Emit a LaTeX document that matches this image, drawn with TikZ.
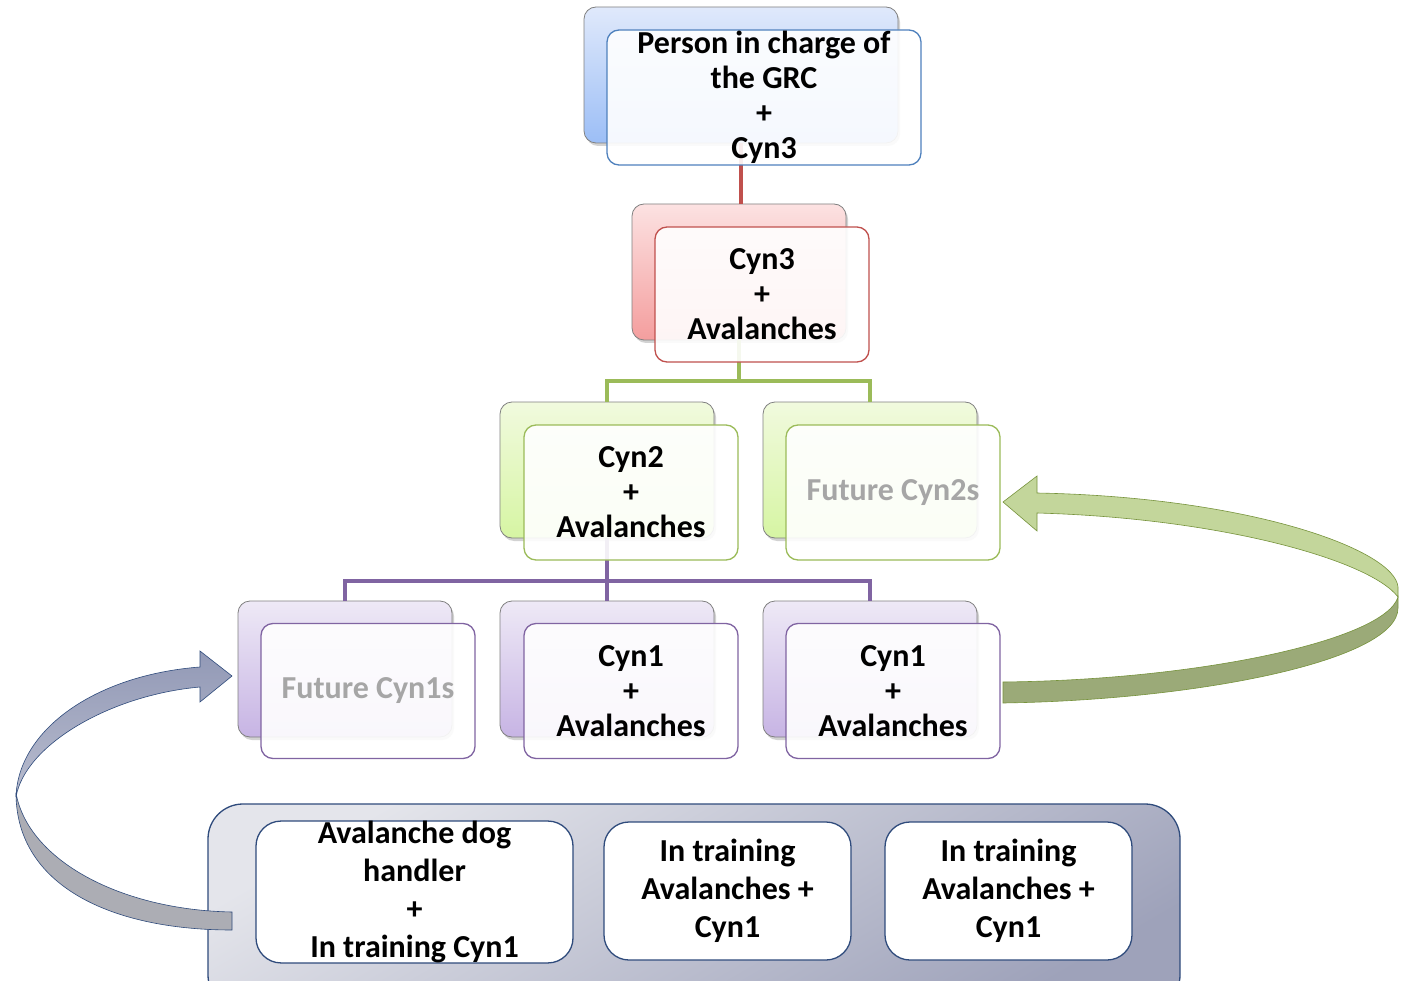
\documentclass[tikz,border=0pt]{standalone}
\usepackage{fontspec}
\setmainfont{Carlito}
\usetikzlibrary{shadows,calc}
\definecolor{bluetop}{RGB}{224,233,251}
\definecolor{bluebot}{RGB}{156,190,246}
\definecolor{blueline}{RGB}{79,129,189}
\definecolor{redtop}{RGB}{252,226,226}
\definecolor{redbot}{RGB}{244,158,158}
\definecolor{redline}{RGB}{192,80,77}
\definecolor{greentop}{RGB}{241,250,222}
\definecolor{greenbot}{RGB}{214,245,163}
\definecolor{greenline}{RGB}{155,187,89}
\definecolor{purpletop}{RGB}{238,233,246}
\definecolor{purplebot}{RGB}{199,180,228}
\definecolor{purpleline}{RGB}{128,100,162}
\definecolor{navy}{RGB}{47,75,124}
\definecolor{contop}{RGB}{228,229,235}
\definecolor{conbot}{RGB}{158,162,186}
\definecolor{futuregray}{RGB}{166,166,166}
\definecolor{arrlight}{RGB}{195,214,155}
\definecolor{arrdark}{RGB}{155,170,120}
\definecolor{arrgreenline}{RGB}{119,147,60}
\definecolor{arrbluetop}{RGB}{146,153,182}
\definecolor{arrbluebot}{RGB}{184,188,206}
\definecolor{arrgray}{RGB}{172,173,180}
\begin{document}
\begin{tikzpicture}[x=1pt,y=-1pt,
  txt/.style={font=\bfseries\fontsize{32}{35}\selectfont, align=center},
  backbox/.style={draw=black!50, line width=0.8pt, rounded corners=12pt,
    minimum width=214pt, minimum height=136pt, inner sep=0pt,
    drop shadow={opacity=0.35, shadow xshift=2pt, shadow yshift=-3pt}},
  frontbox/.style={line width=1.3pt, rounded corners=12pt, fill=white,
    fill opacity=0.9, text opacity=1, minimum width=214pt, minimum height=135pt,
    inner sep=0pt, txt},
  conn/.style={line width=4pt},
  inbox/.style={draw=navy, line width=1.3pt, fill=white, rounded corners=25pt,
    inner sep=0pt, minimum height=138pt, align=center,
    font=\bfseries\fontsize{32}{38}\selectfont},
]
\clip (0,0) rectangle (1402,981);
\fill[white] (0,0) rectangle (1402,981);

% back boxes
\node[backbox, minimum width=314pt, top color=bluetop, bottom color=bluebot] (topback) at (741,75) {};
\node[backbox, top color=redtop, bottom color=redbot] (redback) at (739,272) {};
\node[backbox, top color=greentop, bottom color=greenbot] (g1back) at (607,470) {};
\node[backbox, top color=greentop, bottom color=greenbot] (g2back) at (870,470) {};
\node[backbox, top color=purpletop, bottom color=purplebot] (p1back) at (345,669) {};
\node[backbox, top color=purpletop, bottom color=purplebot] (p2back) at (607,669) {};
\node[backbox, top color=purpletop, bottom color=purplebot] (p3back) at (870,669) {};

% connectors
\coordinate (gbar) at (0,381);
\coordinate (pbar) at (0,581);
\draw[conn, redline] (topback.south) -- (topback.south |- redback.north);
\draw[conn, greenline] (redback.south) -- (redback.south |- gbar) -| (g1back.north);
\draw[conn, greenline] (redback.south |- gbar) -| (g2back.north);
\draw[conn, purpleline] (g1back.south) -- (g1back.south |- pbar) -| (p1back.north);
\draw[conn, purpleline] (g1back.south |- pbar) -| (p2back.north);
\draw[conn, purpleline] (g1back.south |- pbar) -| (p3back.north);

% front boxes
\node[frontbox, draw=blueline, minimum width=314pt] (topfront) at (764,97.5) {Person in charge of\\the GRC\\+\\Cyn3};
\node[frontbox, draw=redline] (redfront) at (762,294.5) {Cyn3\\+\\Avalanches};
\node[frontbox, draw=greenline] (g1front) at (631,492.5) {Cyn2\\+\\Avalanches};
\node[frontbox, draw=greenline, text=futuregray] (g2front) at (893,492.5) {Future Cyn2s};
\node[frontbox, draw=purpleline, text=futuregray] (p1front) at (368,691) {Future Cyn1s};
\node[frontbox, draw=purpleline] (p2front) at (631,691) {Cyn1\\+\\Avalanches};
\node[frontbox, draw=purpleline] (p3front) at (893,691) {Cyn1\\+\\Avalanches};

% bottom container
\node[draw=navy, line width=1.3pt, rounded corners=35pt, top color=contop, bottom color=conbot,
  shading angle=30, minimum width=972pt, minimum height=206pt, inner sep=0pt] (container) at (694,907) {};
\node[inbox, minimum width=317pt] (b1) at (414.5,892) {Avalanche dog\\handler\\+\\In training Cyn1};
\node[inbox, minimum width=247pt] (b2) at (727.5,891) {In training\\Avalanches +\\Cyn1};
\node[inbox, minimum width=247pt] (b3) at (1008.5,891) {In training\\Avalanches +\\Cyn1};

% green curved arrow
\coordinate (ga) at (1003,682);
\coordinate (gb) at (1003,703);
\filldraw[fill=arrdark, draw=arrgreenline, line width=0.6pt]
  (ga) .. controls (1200,680) and (1385,640) .. (1398,597) -- (1398,608)
  .. controls (1398,660) and (1200,700) .. (gb) -- cycle;
\filldraw[fill=arrlight, draw=arrgreenline, line width=0.6pt]
  (1037,493) -- (1037,476) -- (1003,502) -- (1037,531) -- (1037,513)
  .. controls (1220,518) and (1370,560) .. (1398,597) -- (1398,587)
  .. controls (1395,550) and (1250,497) .. (1037,493) -- cycle;

% blue-gray curved arrow
\filldraw[fill=arrgray, draw=navy, line width=0.6pt]
  (16,793) .. controls (16,885) and (110,930) .. (232,930) -- (232,912)
  .. controls (120,910) and (28,860) .. (16,793) -- cycle;
\shade[top color=arrbluetop, bottom color=arrbluebot]
  (200,667) -- (200,651) -- (232,676) -- (200,702) -- (200,687)
  .. controls (110,695) and (25,745) .. (16,797)
  .. controls (18,730) and (95,675) .. (200,667) -- cycle;
\draw[navy, line width=0.6pt] (200,667) -- (200,651) -- (232,676) -- (200,702) -- (200,687)
  .. controls (110,695) and (25,745) .. (16,797)
  .. controls (18,730) and (95,675) .. (200,667) -- cycle;
\end{tikzpicture}
\end{document}
